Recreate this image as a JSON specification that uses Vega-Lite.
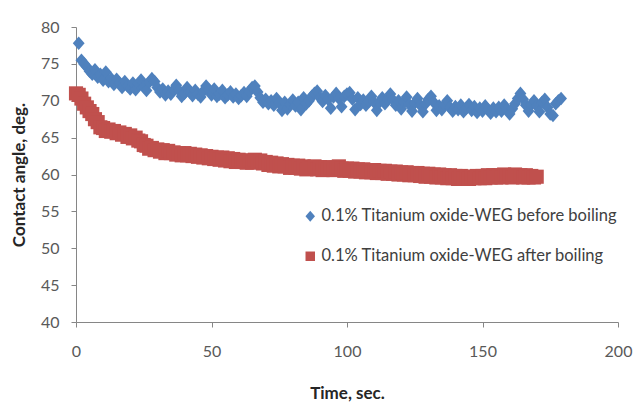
{
  "$schema": "https://vega.github.io/schema/vega-lite/v6.json",
  "width": 542,
  "height": 295,
  "autosize": {"type": "none"},
  "padding": {"left": 76, "top": 27, "right": 22, "bottom": 80},
  "background": "white",
  "config": {
    "view": {"stroke": null},
    "font": "Lato",
    "axis": {
      "grid": false,
      "domainColor": "#868686",
      "tickColor": "#868686",
      "tickSize": 5,
      "labelFlush": false,
      "labelFont": "Lato",
      "labelFontSize": 16,
      "labelColor": "#595959",
      "titleFont": "Lato",
      "titleFontSize": 17,
      "titleFontWeight": "bold",
      "titleColor": "#262626"
    }
  },
  "datasets": {
    "before": [
      {"t":1,"a":77.8},{"t":2,"a":75.5},{"t":3,"a":75.0},{"t":4,"a":74.6},{"t":5,"a":74.0},
      {"t":6,"a":73.6},{"t":7,"a":74.2},{"t":8,"a":73.2},{"t":9,"a":73.6},{"t":10,"a":72.8},
      {"t":11,"a":73.9},{"t":12,"a":72.6},{"t":13,"a":73.0},{"t":14,"a":72.2},{"t":15,"a":72.9},
      {"t":16,"a":72.4},{"t":17,"a":71.8},{"t":18,"a":72.6},{"t":19,"a":72.0},{"t":20,"a":71.6},
      {"t":21,"a":72.4},{"t":22,"a":71.5},{"t":23,"a":72.3},{"t":24,"a":72.8},{"t":25,"a":71.9},
      {"t":26,"a":71.4},{"t":27,"a":72.5},{"t":28,"a":73.0},{"t":29,"a":72.6},{"t":30,"a":71.8},
      {"t":31,"a":71.2},{"t":32,"a":71.6},{"t":33,"a":70.8},{"t":34,"a":71.3},{"t":35,"a":70.9},
      {"t":36,"a":71.5},{"t":37,"a":72.1},{"t":38,"a":71.4},{"t":39,"a":70.6},{"t":40,"a":71.0},
      {"t":41,"a":71.8},{"t":42,"a":71.2},{"t":43,"a":70.7},{"t":44,"a":71.4},{"t":45,"a":70.9},
      {"t":46,"a":70.5},{"t":47,"a":71.3},{"t":48,"a":72.0},{"t":49,"a":71.5},{"t":50,"a":70.8},
      {"t":51,"a":71.6},{"t":52,"a":70.6},{"t":53,"a":70.9},{"t":54,"a":71.4},{"t":55,"a":70.4},
      {"t":56,"a":70.8},{"t":57,"a":71.2},{"t":58,"a":70.5},{"t":59,"a":70.9},{"t":60,"a":70.3},
      {"t":61,"a":70.7},{"t":62,"a":71.1},{"t":63,"a":70.6},{"t":64,"a":71.3},{"t":65,"a":71.8},
      {"t":66,"a":72.0},{"t":67,"a":71.2},{"t":68,"a":70.4},{"t":69,"a":69.8},{"t":70,"a":70.2},
      {"t":71,"a":69.6},{"t":72,"a":70.0},{"t":73,"a":69.4},{"t":74,"a":70.3},{"t":75,"a":69.7},
      {"t":76,"a":68.7},{"t":77,"a":69.8},{"t":78,"a":68.9},{"t":79,"a":69.5},{"t":80,"a":70.1},
      {"t":81,"a":69.3},{"t":82,"a":69.8},{"t":83,"a":68.8},{"t":84,"a":70.4},{"t":85,"a":69.6},
      {"t":86,"a":70.0},{"t":87,"a":70.6},{"t":88,"a":71.0},{"t":89,"a":71.3},{"t":90,"a":70.4},
      {"t":91,"a":69.9},{"t":92,"a":70.7},{"t":93,"a":70.2},{"t":94,"a":69.0},{"t":95,"a":70.5},
      {"t":96,"a":71.0},{"t":97,"a":70.3},{"t":98,"a":69.2},{"t":99,"a":70.6},{"t":100,"a":70.9},
      {"t":101,"a":71.1},{"t":102,"a":70.2},{"t":103,"a":68.8},{"t":104,"a":70.4},{"t":105,"a":69.5},
      {"t":106,"a":70.1},{"t":107,"a":69.4},{"t":108,"a":69.9},{"t":109,"a":70.6},{"t":110,"a":69.8},
      {"t":111,"a":68.7},{"t":112,"a":69.8},{"t":113,"a":70.4},{"t":114,"a":69.6},{"t":115,"a":70.2},
      {"t":116,"a":70.9},{"t":117,"a":70.1},{"t":118,"a":69.4},{"t":119,"a":70.0},{"t":120,"a":68.9},
      {"t":121,"a":69.8},{"t":122,"a":70.5},{"t":123,"a":69.5},{"t":124,"a":68.6},{"t":125,"a":69.7},
      {"t":126,"a":70.3},{"t":127,"a":69.4},{"t":128,"a":68.5},{"t":129,"a":69.6},{"t":130,"a":70.2},
      {"t":131,"a":70.6},{"t":132,"a":69.8},{"t":133,"a":68.7},{"t":134,"a":69.3},{"t":135,"a":68.8},
      {"t":136,"a":69.5},{"t":137,"a":70.0},{"t":138,"a":69.1},{"t":139,"a":68.6},{"t":140,"a":69.2},
      {"t":141,"a":68.8},{"t":142,"a":69.4},{"t":143,"a":68.5},{"t":144,"a":69.0},{"t":145,"a":69.5},
      {"t":146,"a":68.7},{"t":147,"a":69.2},{"t":148,"a":68.4},{"t":149,"a":69.0},{"t":150,"a":68.6},
      {"t":151,"a":69.3},{"t":152,"a":68.8},{"t":153,"a":68.3},{"t":154,"a":69.0},{"t":155,"a":68.5},
      {"t":156,"a":69.1},{"t":157,"a":68.6},{"t":158,"a":69.4},{"t":159,"a":68.8},{"t":160,"a":68.2},
      {"t":161,"a":68.9},{"t":162,"a":69.6},{"t":163,"a":70.3},{"t":164,"a":71.0},{"t":165,"a":70.2},
      {"t":166,"a":69.4},{"t":167,"a":68.6},{"t":168,"a":69.5},{"t":169,"a":70.0},{"t":170,"a":69.3},
      {"t":171,"a":68.5},{"t":172,"a":69.8},{"t":173,"a":70.2},{"t":174,"a":69.1},{"t":175,"a":68.2},
      {"t":176,"a":68.0},{"t":177,"a":69.6},{"t":178,"a":70.0},{"t":179,"a":70.3}
    ],
    "after": [
      {"t":0,"a":71.0},{"t":1,"a":70.8},{"t":2,"a":70.3},{"t":3,"a":69.6},{"t":4,"a":69.1},
      {"t":5,"a":68.6},{"t":6,"a":68.2},{"t":7,"a":67.5},{"t":8,"a":67.1},{"t":9,"a":66.4},
      {"t":10,"a":66.3},{"t":11,"a":65.9},{"t":12,"a":66.1},{"t":13,"a":65.8},{"t":14,"a":65.9},
      {"t":15,"a":65.6},{"t":16,"a":65.7},{"t":17,"a":65.4},{"t":18,"a":65.5},{"t":19,"a":65.1},
      {"t":20,"a":65.3},{"t":21,"a":64.9},{"t":22,"a":65.0},{"t":23,"a":64.6},{"t":24,"a":64.5},
      {"t":25,"a":64.0},{"t":26,"a":63.9},{"t":27,"a":63.5},{"t":28,"a":63.6},{"t":29,"a":63.3},
      {"t":30,"a":63.4},{"t":31,"a":63.1},{"t":32,"a":63.3},{"t":33,"a":62.9},{"t":34,"a":63.2},
      {"t":35,"a":62.9},{"t":36,"a":63.0},{"t":37,"a":62.7},{"t":38,"a":62.9},{"t":39,"a":62.6},
      {"t":40,"a":62.9},{"t":41,"a":62.6},{"t":42,"a":62.8},{"t":43,"a":62.5},{"t":44,"a":62.7},
      {"t":45,"a":62.4},{"t":46,"a":62.6},{"t":47,"a":62.3},{"t":48,"a":62.5},{"t":49,"a":62.2},
      {"t":50,"a":62.4},{"t":51,"a":62.1},{"t":52,"a":62.3},{"t":53,"a":62.0},{"t":54,"a":62.3},
      {"t":55,"a":61.9},{"t":56,"a":62.2},{"t":57,"a":61.8},{"t":58,"a":62.1},{"t":59,"a":61.7},
      {"t":60,"a":62.0},{"t":61,"a":61.7},{"t":62,"a":61.9},{"t":63,"a":61.6},{"t":64,"a":61.9},
      {"t":65,"a":61.6},{"t":66,"a":62.0},{"t":67,"a":61.8},{"t":68,"a":61.9},{"t":69,"a":61.5},
      {"t":70,"a":61.7},{"t":71,"a":61.3},{"t":72,"a":61.6},{"t":73,"a":61.2},{"t":74,"a":61.5},
      {"t":75,"a":61.1},{"t":76,"a":61.4},{"t":77,"a":61.1},{"t":78,"a":61.3},{"t":79,"a":60.9},
      {"t":80,"a":61.2},{"t":81,"a":60.9},{"t":82,"a":61.2},{"t":83,"a":60.8},{"t":84,"a":61.1},
      {"t":85,"a":60.7},{"t":86,"a":61.0},{"t":87,"a":60.8},{"t":88,"a":61.1},{"t":89,"a":60.7},
      {"t":90,"a":61.0},{"t":91,"a":60.6},{"t":92,"a":61.0},{"t":93,"a":60.7},{"t":94,"a":60.9},
      {"t":95,"a":60.6},{"t":96,"a":60.9},{"t":97,"a":61.1},{"t":98,"a":60.8},{"t":99,"a":60.5},
      {"t":100,"a":60.8},{"t":101,"a":60.5},{"t":102,"a":60.8},{"t":103,"a":60.4},{"t":104,"a":60.7},
      {"t":105,"a":60.4},{"t":106,"a":60.7},{"t":107,"a":60.3},{"t":108,"a":60.6},{"t":109,"a":60.3},
      {"t":110,"a":60.6},{"t":111,"a":60.2},{"t":112,"a":60.5},{"t":113,"a":60.2},{"t":114,"a":60.5},
      {"t":115,"a":60.1},{"t":116,"a":60.4},{"t":117,"a":60.1},{"t":118,"a":60.4},{"t":119,"a":60.0},
      {"t":120,"a":60.3},{"t":121,"a":60.0},{"t":122,"a":60.3},{"t":123,"a":59.9},{"t":124,"a":60.2},
      {"t":125,"a":59.9},{"t":126,"a":60.2},{"t":127,"a":59.8},{"t":128,"a":60.1},{"t":129,"a":59.7},
      {"t":130,"a":60.1},{"t":131,"a":59.7},{"t":132,"a":60.0},{"t":133,"a":59.6},{"t":134,"a":60.0},
      {"t":135,"a":59.6},{"t":136,"a":59.9},{"t":137,"a":59.5},{"t":138,"a":59.9},{"t":139,"a":59.5},
      {"t":140,"a":59.8},{"t":141,"a":59.4},{"t":142,"a":59.8},{"t":143,"a":59.4},{"t":144,"a":59.7},
      {"t":145,"a":59.4},{"t":146,"a":59.7},{"t":147,"a":59.5},{"t":148,"a":59.8},{"t":149,"a":59.5},
      {"t":150,"a":59.8},{"t":151,"a":59.5},{"t":152,"a":59.9},{"t":153,"a":59.6},{"t":154,"a":59.9},
      {"t":155,"a":59.6},{"t":156,"a":59.9},{"t":157,"a":59.6},{"t":158,"a":60.0},{"t":159,"a":59.7},
      {"t":160,"a":59.9},{"t":161,"a":59.6},{"t":162,"a":60.0},{"t":163,"a":59.7},{"t":164,"a":59.9},
      {"t":165,"a":59.6},{"t":166,"a":59.9},{"t":167,"a":59.6},{"t":168,"a":59.8},{"t":169,"a":59.6},
      {"t":170,"a":59.7}
    ]
  },
  "encoding": {
    "x": {
      "field": "t",
      "type": "quantitative",
      "scale": {"domain": [0, 200], "nice": false},
      "axis": {
        "title": "Time, sec.",
        "values": [0, 50, 100, 150, 200],
        "labelPadding": 16,
        "titlePadding": 26
      }
    },
    "y": {
      "field": "a",
      "type": "quantitative",
      "scale": {"domain": [40, 80], "nice": false, "zero": false},
      "axis": {
        "title": "Contact angle, deg.",
        "values": [40, 45, 50, 55, 60, 65, 70, 75, 80],
        "labelPadding": 12,
        "titlePadding": 12
      }
    }
  },
  "layer": [
    {
      "data": {"name": "before"},
      "mark": {"type": "point", "filled": true, "opacity": 1, "size": 140},
      "encoding": {
        "color": {
          "datum": "0.1% Titanium oxide-WEG before boiling",
          "scale": {
            "domain": ["0.1% Titanium oxide-WEG before boiling", "0.1% Titanium oxide-WEG after boiling"],
            "range": ["#4F81BD", "#C0504D"]
          },
          "legend": {
            "title": null,
            "orient": "none",
            "legendX": 226,
            "legendY": 181,
            "labelFont": "Lato",
            "labelFontSize": 16.5,
            "labelColor": "#404040",
            "symbolSize": 90,
            "rowPadding": 23,
            "labelOffset": 3,
            "labelLimit": 400
          }
        },
        "shape": {
          "datum": "0.1% Titanium oxide-WEG before boiling",
          "scale": {
            "domain": ["0.1% Titanium oxide-WEG before boiling", "0.1% Titanium oxide-WEG after boiling"],
            "range": ["M-1,0L0,-1.15L1,0L0,1.15Z", "square"]
          },
          "legend": {
            "title": null,
            "orient": "none",
            "legendX": 226,
            "legendY": 181,
            "labelFont": "Lato",
            "labelFontSize": 16.5,
            "labelColor": "#404040",
            "symbolSize": 90,
            "rowPadding": 23,
            "labelOffset": 3,
            "labelLimit": 400
          }
        }
      }
    },
    {
      "data": {"name": "after"},
      "mark": {"type": "point", "filled": true, "opacity": 1, "size": 200},
      "encoding": {
        "color": {"datum": "0.1% Titanium oxide-WEG after boiling"},
        "shape": {"datum": "0.1% Titanium oxide-WEG after boiling"}
      }
    }
  ]
}
